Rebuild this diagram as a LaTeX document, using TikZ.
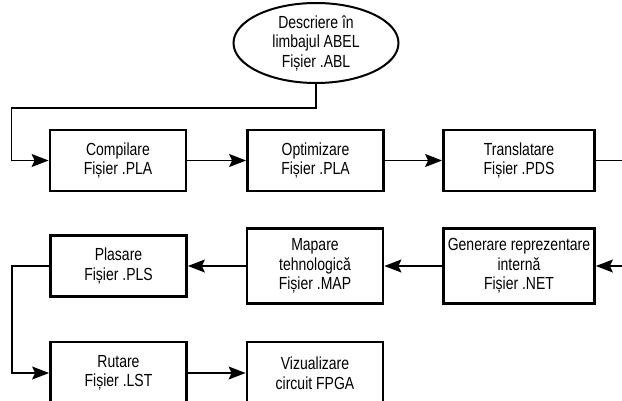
\documentclass[tikz,border=0pt]{standalone}
\usepackage{fontspec}
\setmainfont[FakeStretch=0.8]{Liberation Sans}
\usetikzlibrary{arrows.meta,shapes.geometric}

\begin{document}
\begin{tikzpicture}[x=1pt,y=-1pt]
  % Local definitions
  \def\rowone{160.5}
  \def\rowtwo{266}
  \def\rowthree{373}

  % Styles
  \tikzstyle{stage box}=[draw,line width=2.8pt,align=center,inner sep=0pt,
    font=\fontsize{17.5}{19.5}\selectfont,minimum width=136pt,minimum height=61pt]
  \tikzstyle{tall box}=[stage box,minimum height=75pt]
  \tikzstyle{source}=[ellipse,draw,line width=2pt,align=center,inner sep=0pt,
    font=\fontsize{17.5}{19.5}\selectfont,minimum width=165pt,minimum height=80pt]
  \tikzstyle{flow}=[line width=1.3pt,-{Stealth[length=17pt,width=13pt,inset=3pt]}]

  % The graphic
  \useasboundingbox (0,0) rectangle (622,400);

  \node[source] (desc) at (316,43) {Descriere în\\limbajul ABEL\\Fișier .ABL};

  \node[stage box] (comp) at (118,\rowone) {Compilare\\Fișier .PLA};
  \node[stage box] (opt) at (315.5,\rowone) {Optimizare\\Fișier .PLA};
  \node[stage box,minimum width=151pt] (trans) at (519,\rowone)
    {Translatare\\Fișier .PDS};

  \node[stage box] (plas) at (118.5,\rowtwo) {Plasare\\Fișier .PLS};
  \node[tall box] (map) at (315,\rowtwo) {Mapare\\tehnologică\\Fișier .MAP};
  \node[tall box,minimum width=151pt] (gen) at (519,\rowtwo)
    {Generare reprezentare\\internă\\Fișier .NET};

  \node[stage box,minimum height=62pt] (rut) at (118.5,\rowthree) {Rutare\\Fișier .LST};
  \node[stage box,minimum height=62pt] (viz) at (315,\rowthree) {Vizualizare\\circuit FPGA};

  % Connectors
  \draw[flow] (desc.south) -- ++(0,24) -| ([xshift=-37pt]comp.west) -- (comp.west);
  \draw[flow] (comp.east) -- (opt.west);
  \draw[flow] (opt.east) -- (trans.west);
  \draw[flow] (trans.east) -- ++(40,0) |- (gen.east);
  \draw[flow] (gen.west) -- (map.east);
  \draw[flow] (map.west) -- (plas.east);
  \draw[flow] (plas.west) -- ++(-37,0) |- (rut.west);
  \draw[flow] (rut.east) -- (viz.west);
\end{tikzpicture}
\end{document}
